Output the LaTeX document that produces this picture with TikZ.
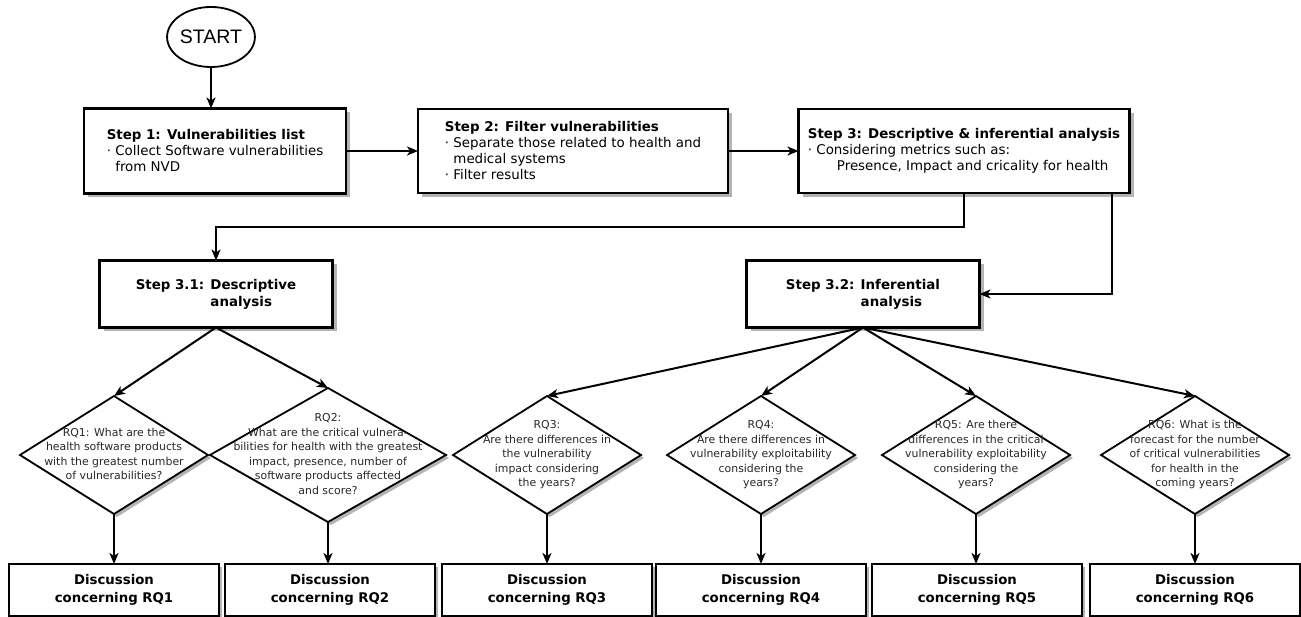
\documentclass[tikz,border=0pt]{standalone}
\usepackage{fontspec}
\setmainfont{DejaVu Sans}
\newfontfamily\startfont{Liberation Sans}
\usetikzlibrary{arrows.meta,shapes.geometric}
\definecolor{dtextcol}{RGB}{40,40,40}
\definecolor{shadowcol}{RGB}{180,180,180}
\newcommand\dtxt[1]{\makebox[0pt]{\raisebox{-2.7pt}[0pt][0pt]{\begin{tabular}[c]{@{}c@{}}#1\end{tabular}}}}
% shadow of a box: centre x, centre y, width, height, offset
\newcommand\shbox[5]{\fill[shadowfill] ({#1-#3/2+#5},{#2-#4/2+#5}) rectangle ({#1+#3/2+#5},{#2+#4/2+#5});}
\newcommand\shdia[4]{\fill[shadowfill] ({#1+3},{#2-#4/2+3}) -- ({#1+#3/2+3},{#2+3}) -- ({#1+3},{#2+#4/2+3}) -- ({#1-#3/2+3},{#2+3}) -- cycle;}
\begin{document}
\begin{tikzpicture}[x=1pt,y=-1pt,
  every node/.style={inner sep=0pt,outer sep=0pt},
  stepbox/.style={draw,line width=2.4pt,fill=white,align=left,
    font=\fontsize{13.4}{16}\selectfont},
  dia/.style={diamond,draw,line width=1.8pt,fill=white,text=dtextcol,
    font=\fontsize{10.9}{14.5}\selectfont},
  disc/.style={draw,line width=2.8pt,fill=white,minimum width=210pt,minimum height=52pt,
    align=center,font=\bfseries\fontsize{13.3}{18}\selectfont},
  arr/.style={-{Stealth[length=11pt,width=9pt,inset=3pt]},line width=2pt},
  shadowfill/.style={fill=shadowcol,draw=none},
]
\useasboundingbox (0,0) rectangle (1301,617);

% shadows
\shbox{215}{151}{262}{85}{4}
\shbox{573}{151}{310}{84}{4}
\shbox{964}{151}{331}{84}{4}
\shbox{216}{294}{233}{67}{4}
\shbox{863}{294}{233}{67}{4}
\shdia{114}{455}{188}{118}
\shdia{328}{455}{236}{134}
\shdia{547}{455}{188}{118}
\shdia{761}{455}{188}{118}
\shdia{976}{455}{188}{118}
\shdia{1195}{455}{188}{118}
\foreach \cx in {114,330,547,761,977,1195} {\shbox{\cx}{590}{210}{52}{3}}

\node[ellipse,draw,line width=1.8pt,minimum width=82pt,minimum height=60pt,
  font=\startfont\fontsize{19.5}{22}\selectfont] (start) at (211,37) {START};

\node[stepbox,minimum width=262pt,minimum height=85pt] (s1) at (215,151)
  {\textbf{Step 1: Vulnerabilities list}\\· Collect Software vulnerabilities\\\phantom{· }from NVD};
\node[stepbox,minimum width=310pt,minimum height=84pt] (s2) at (573,151)
  {\textbf{Step 2: Filter vulnerabilities}\\· Separate those related to health and\\\phantom{· }medical systems\\· Filter results};
\node[stepbox,minimum width=331pt,minimum height=84pt] (s3) at (964,151)
  {\textbf{Step 3: Descriptive \& inferential analysis}\\· Considering metrics such as:\\\hspace*{29pt}Presence, Impact and cricality for health};

\node[stepbox,minimum width=233pt,minimum height=67pt,font=\bfseries\fontsize{13.4}{17}\selectfont] (s31) at (216,294)
  {Step 3.1: Descriptive\\\phantom{Step 3.1: }analysis};
\node[stepbox,minimum width=233pt,minimum height=67pt,font=\bfseries\fontsize{13.4}{17}\selectfont] (s32) at (863,294)
  {Step 3.2: Inferential\\\phantom{Step 3.2: }analysis};

\node[dia,minimum width=188pt,minimum height=118pt] (rq1) at (114,455)
  {\dtxt{RQ1: What are the\\health software products\\with the greatest number\\of vulnerabilities?}};
\node[dia,minimum width=236pt,minimum height=134pt] (rq2) at (328,455)
  {\dtxt{RQ2:\\What are the critical vulnera-\\bilities for health with the greatest\\impact, presence, number of\\software products affected\\and score?}};
\node[dia,minimum width=188pt,minimum height=118pt] (rq3) at (547,455)
  {\dtxt{RQ3:\\Are there differences in\\the vulnerability\\impact considering\\the years?}};
\node[dia,minimum width=188pt,minimum height=118pt] (rq4) at (761,455)
  {\dtxt{RQ4:\\Are there differences in\\vulnerability exploitability\\considering the\\years?}};
\node[dia,minimum width=188pt,minimum height=118pt] (rq5) at (976,455)
  {\dtxt{RQ5: Are there\\differences in the critical\\vulnerability exploitability\\considering the\\years?}};
\node[dia,minimum width=188pt,minimum height=118pt] (rq6) at (1195,455)
  {\dtxt{RQ6: What is the\\forecast for the number\\of critical vulnerabilities\\for health in the\\coming years?}};

\node[disc] (d1) at (114,590) {Discussion\\concerning RQ1};
\node[disc] (d2) at (330,590) {Discussion\\concerning RQ2};
\node[disc] (d3) at (547,590) {Discussion\\concerning RQ3};
\node[disc] (d4) at (761,590) {Discussion\\concerning RQ4};
\node[disc] (d5) at (977,590) {Discussion\\concerning RQ5};
\node[disc] (d6) at (1195,590) {Discussion\\concerning RQ6};

\draw[arr] (start.south) -- (start.south |- s1.north);
\draw[arr] (s1.east) -- (s1.east -| s2.west);
\draw[arr] (s2.east) -- (s2.east -| s3.west);
\draw[arr] (s3.south) -- ++(0,34) -| (s31.north);
\draw[arr] ([xshift=-18pt]s3.south east) |- (s32.east);

\draw[arr] (s31.south) -- (rq1.north);
\draw[arr] (s31.south) -- (rq2.north);
\foreach \r in {rq3,rq4,rq5,rq6} \draw[arr] (s32.south) -- (\r.north);

\draw[arr] (rq1.south) -- (rq1.south |- d1.north);
\draw[arr] (rq2.south) -- (rq2.south |- d2.north);
\draw[arr] (rq3.south) -- (rq3.south |- d3.north);
\draw[arr] (rq4.south) -- (rq4.south |- d4.north);
\draw[arr] (rq5.south) -- (rq5.south |- d5.north);
\draw[arr] (rq6.south) -- (rq6.south |- d6.north);
\end{tikzpicture}
\end{document}
